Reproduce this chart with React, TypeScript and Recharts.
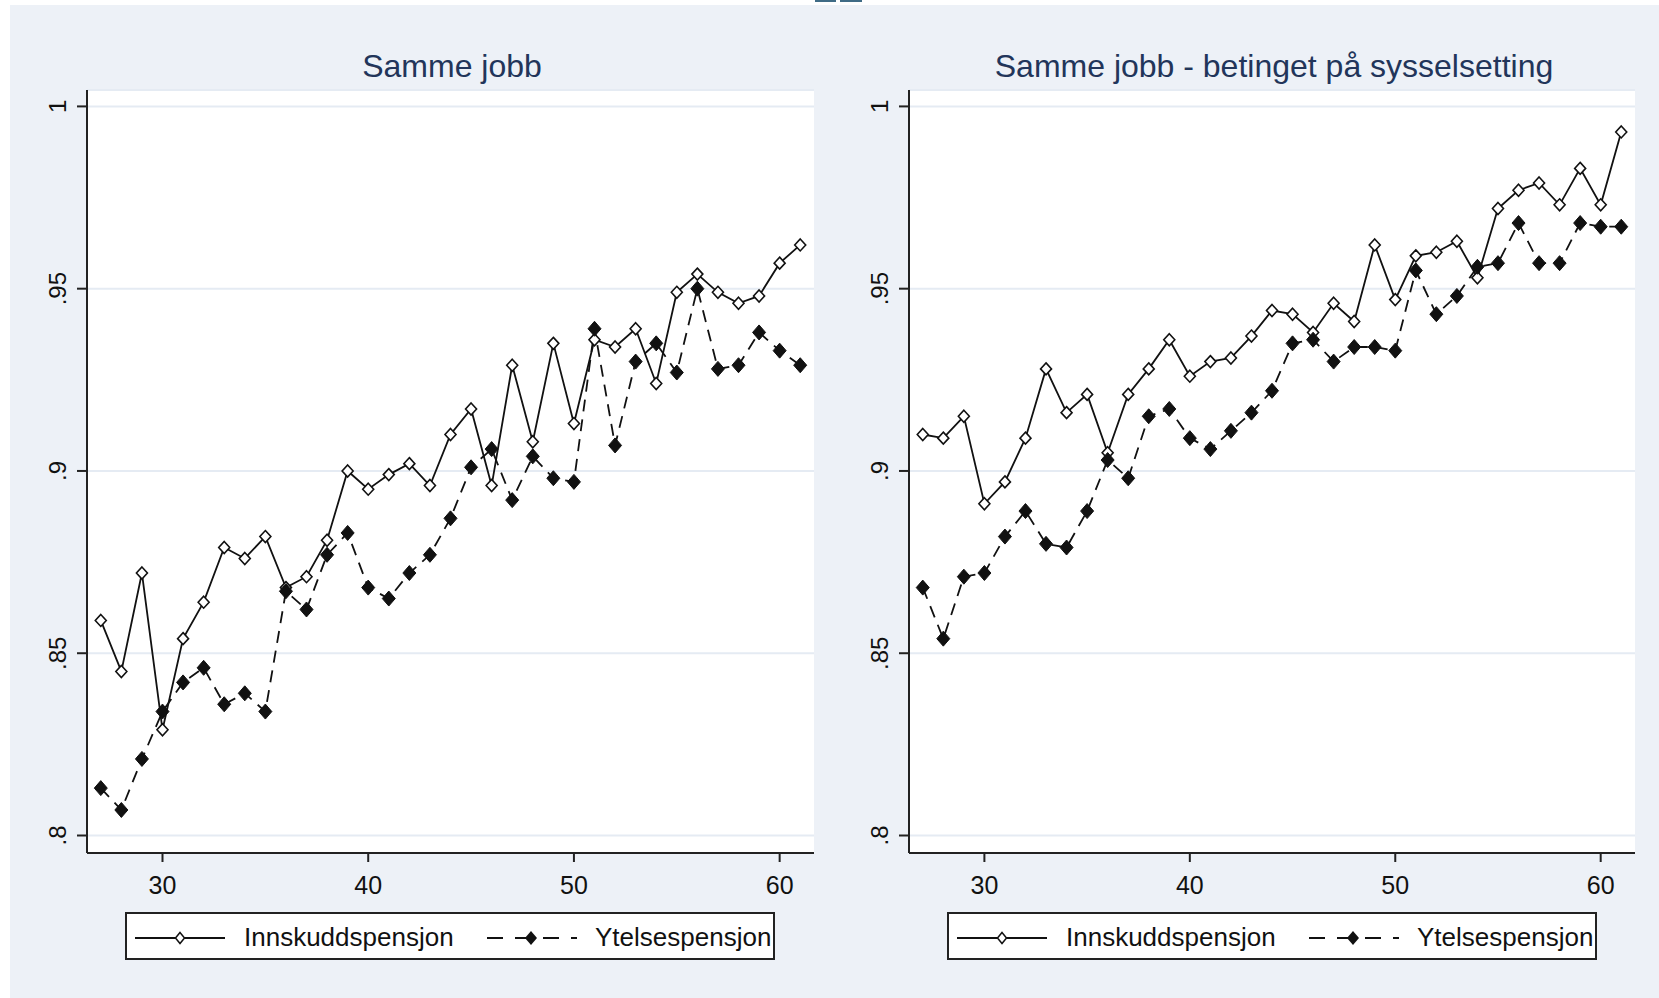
import React from 'react';
import { LineChart, Line, CartesianGrid, XAxis, YAxis } from 'recharts';

// age on the x axis
const ages = [27, 28, 29, 30, 31, 32, 33, 34, 35, 36, 37, 38, 39, 40, 41, 42, 43, 44,
  45, 46, 47, 48, 49, 50, 51, 52, 53, 54, 55, 56, 57, 58, 59, 60, 61];

// panel 1: Samme jobb
const innskuddSamme = [0.859, 0.845, 0.872, 0.829, 0.854, 0.864, 0.879, 0.876, 0.882, 0.868,
  0.871, 0.881, 0.900, 0.895, 0.899, 0.902, 0.896, 0.910, 0.917, 0.896, 0.929, 0.908, 0.935,
  0.913, 0.936, 0.934, 0.939, 0.924, 0.949, 0.954, 0.949, 0.946, 0.948, 0.957, 0.962];
const ytelseSamme = [0.813, 0.807, 0.821, 0.834, 0.842, 0.846, 0.836, 0.839, 0.834, 0.867,
  0.862, 0.877, 0.883, 0.868, 0.865, 0.872, 0.877, 0.887, 0.901, 0.906, 0.892, 0.904, 0.898,
  0.897, 0.939, 0.907, 0.930, 0.935, 0.927, 0.950, 0.928, 0.929, 0.938, 0.933, 0.929];

// panel 2: Samme jobb - betinget på sysselsetting
const innskuddBetinget = [0.910, 0.909, 0.915, 0.891, 0.897, 0.909, 0.928, 0.916, 0.921, 0.905,
  0.921, 0.928, 0.936, 0.926, 0.930, 0.931, 0.937, 0.944, 0.943, 0.938, 0.946, 0.941, 0.962,
  0.947, 0.959, 0.960, 0.963, 0.953, 0.972, 0.977, 0.979, 0.973, 0.983, 0.973, 0.993];
const ytelseBetinget = [0.868, 0.854, 0.871, 0.872, 0.882, 0.889, 0.880, 0.879, 0.889, 0.903,
  0.898, 0.915, 0.917, 0.909, 0.906, 0.911, 0.916, 0.922, 0.935, 0.936, 0.930, 0.934, 0.934,
  0.933, 0.955, 0.943, 0.948, 0.956, 0.957, 0.968, 0.957, 0.957, 0.968, 0.967, 0.967];

const xTicks = [30, 40, 50, 60];
const yTicks = [0.8, 0.85, 0.9, 0.95, 1];
const yTickLabels = ['.8', '.85', '.9', '.95', '1'];
const panelTitles = ['Samme jobb', 'Samme jobb - betinget på sysselsetting'];
const seriesNames = ['Innskuddspensjon', 'Ytelsespensjon'];

const FONT = '"Liberation Sans", Arial, sans-serif';
const BG = '#edf1f7';
const INK = '#111';

const toRows = (a: number[], b: number[]) =>
  ages.map((age, i) => ({ age, innskudd: a[i], ytelse: b[i] }));

const diamond = (cx: number, cy: number, w: number, h: number) =>
  `M${cx},${cy - h} L${cx + w},${cy} L${cx},${cy + h} L${cx - w},${cy} Z`;

const hollowDot = (p: any) => {
  if (p.cx == null || p.cy == null) return <g key={`h${p.index}`} />;
  return <path key={`h${p.index}`} d={diamond(p.cx, p.cy, 5.5, 6)} fill="#fff" stroke={INK} strokeWidth={1.6} />;
};

const filledDot = (p: any) => {
  if (p.cx == null || p.cy == null) return <g key={`f${p.index}`} />;
  return <path key={`f${p.index}`} d={diamond(p.cx, p.cy, 6.5, 7.5)} fill={INK} stroke={INK} strokeWidth={1} />;
};

const YTick = (props: any) => {
  const { x, y, payload } = props;
  const label = yTickLabels[yTicks.indexOf(payload.value)];
  return (
    <text x={x} y={y} transform={`rotate(-90, ${x}, ${y})`} textAnchor="middle"
      fontSize={24} fontFamily={FONT} fill={INK}>{label}</text>
  );
};

const Panel = ({ rows, left, marginLeft, marginRight, width }: any) => (
  <div style={{ position: 'absolute', left, top: 0 }}>
    <LineChart width={width} height={998} data={rows}
      margin={{ top: 90, right: marginRight, bottom: 105, left: marginLeft }}>
      <CartesianGrid vertical={false} stroke="#e5ebf3" strokeWidth={2} fill="#fff" fillOpacity={1} />
      <XAxis dataKey="age" type="number" domain={[26.33, 61.67]} ticks={xTicks} allowDataOverflow
        height={40} tickSize={9} tickMargin={14}
        axisLine={{ stroke: '#222', strokeWidth: 2 }} tickLine={{ stroke: '#222', strokeWidth: 2 }}
        tick={{ fill: INK, fontSize: 25, fontFamily: FONT }} />
      <YAxis type="number" domain={[0.7952, 1.0045]} ticks={yTicks} allowDataOverflow
        width={77} tickSize={10} tickMargin={11}
        axisLine={{ stroke: '#222', strokeWidth: 2 }} tickLine={{ stroke: '#222', strokeWidth: 2 }}
        tick={<YTick />} />
      <Line type="linear" dataKey="innskudd" stroke={INK} strokeWidth={1.8}
        dot={hollowDot} activeDot={false} isAnimationActive={false} />
      <Line type="linear" dataKey="ytelse" stroke={INK} strokeWidth={1.8} strokeDasharray="12 8"
        dot={filledDot} activeDot={false} isAnimationActive={false} />
    </LineChart>
  </div>
);

const Title = ({ text, center }: { text: string; center: number }) => (
  <div style={{
    position: 'absolute', left: center - 400, width: 800, top: 50, textAlign: 'center',
    fontFamily: FONT, fontSize: 32, lineHeight: '32px', color: '#22355a', whiteSpace: 'nowrap'
  }}>{text}</div>
);

const LegendBox = ({ left }: { left: number }) => (
  <svg style={{ position: 'absolute', left, top: 912 }} width={650} height={49}>
    <rect x={1} y={1} width={648} height={46} fill="#fff" stroke="#222" strokeWidth={2} />
    <line x1={10} x2={100} y1={26} y2={26} stroke={INK} strokeWidth={1.8} />
    <path d={diamond(55, 26, 4.5, 5.5)} fill="#fff" stroke={INK} strokeWidth={1.5} />
    <text x={119} y={34} fontSize={26} fontFamily={FONT} fill={INK}>{seriesNames[0]}</text>
    <line x1={362} x2={452} y1={26} y2={26} stroke={INK} strokeWidth={1.8} strokeDasharray="16 12" />
    <path d={diamond(406, 26, 6, 7)} fill={INK} />
    <text x={470} y={34} fontSize={26} fontFamily={FONT} fill={INK}>{seriesNames[1]}</text>
  </svg>
);

export default function App() {
  return (
    <div style={{ position: 'absolute', left: 0, top: 0, width: 1659, height: 998, background: BG, overflow: 'hidden' }}>
      <div style={{ position: 'absolute', left: 0, top: 0, width: 1659, height: 5, background: '#fff' }} />
      <div style={{ position: 'absolute', left: 0, top: 0, width: 10, height: 998, background: '#fff' }} />
      <div style={{ position: 'absolute', left: 815, top: 0, width: 21, height: 2, background: '#3f6b85' }} />
      <div style={{ position: 'absolute', left: 840, top: 0, width: 22, height: 2, background: '#3f6b85' }} />
      <Panel rows={toRows(innskuddSamme, ytelseSamme)} left={0} width={830} marginLeft={10} marginRight={16} />
      <Panel rows={toRows(innskuddBetinget, ytelseBetinget)} left={830} width={829} marginLeft={2} marginRight={24} />
      <Title text={panelTitles[0]} center={452} />
      <Title text={panelTitles[1]} center={1274} />
      <LegendBox left={125} />
      <LegendBox left={947} />
    </div>
  );
}
